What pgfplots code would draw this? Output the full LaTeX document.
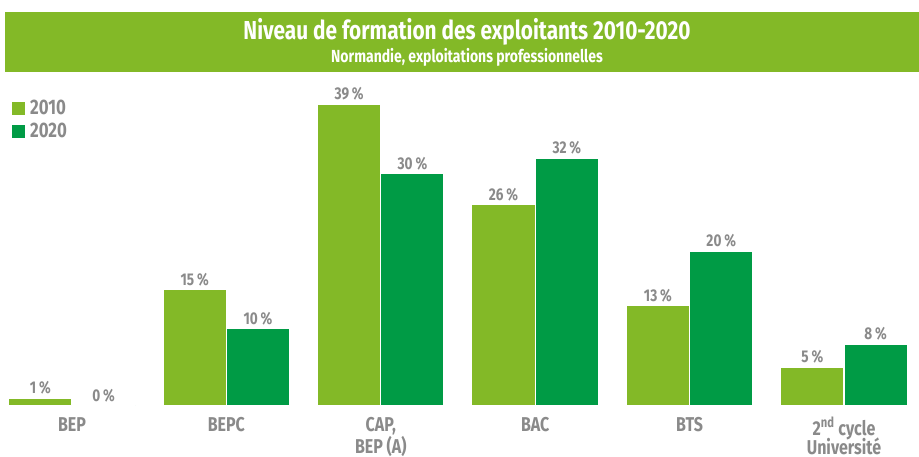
\documentclass[border=0pt]{standalone}
\usepackage{fontspec}
\setmainfont[FakeStretch=0.8]{Fira Sans}
\usepackage{pgfplots}
\pgfplotsset{compat=1.18}
\definecolor{lg}{HTML}{83B927}
\definecolor{dg}{HTML}{009B45}
\definecolor{tg}{HTML}{8A8A8A}
\begin{document}
\begin{tikzpicture}[x=1bp,y=1bp]
\path[use as bounding box] (0,0) rectangle (919,457);
\fill[lg] (5,385) rectangle (919,445);
\node[white,font=\bfseries\fontsize{26bp}{28bp}\selectfont] at (467,425) {Niveau de formation des exploitants 2010-2020};
\node[white,font=\bfseries\fontsize{17.5bp}{19bp}\selectfont] at (467,400) {Normandie, exploitations professionnelles};
\begin{axis}[
  at={(0,66)}, anchor=south west, scale only axis,
  width=919bp, height=324bp,
  xmin=-0.466, xmax=5.486, ymin=0, ymax=41.86,
  axis line style={draw=none}, tick style={draw=none},
  ytick=\empty,
  xtick={0,1,2,3,4,5},
  xticklabels={BEP,BEPC,{CAP,\\BEP (A)},BAC,BTS,{2\textsuperscript{nd} cycle\\[-3bp]Université}},
  xticklabel style={font=\bfseries\fontsize{20bp}{17bp}\selectfont, text=tg, align=center, anchor=north, yshift=-6bp, inner sep=1bp},
  /pgf/number format/assume math mode=true,
  ybar, bar width=0.41,
  nodes near coords={\pgfmathprintnumber{\pgfplotspointmeta}\,\%},
  nodes near coords style={font=\bfseries\fontsize{17bp}{18bp}\selectfont, text=tg, inner sep=1bp, anchor=south, yshift=2bp},
  legend style={at={(axis description cs:0.013,0.95)}, anchor=north west, draw=none, fill=none,
    font=\bfseries\fontsize{21bp}{22bp}\selectfont, text=tg, row sep=3bp, inner sep=0pt,
    cells={anchor=west}, /tikz/every even column/.append style={column sep=0pt}},
  legend image code/.code={\fill[#1,draw=none] (0bp,-7bp) rectangle (13bp,6bp);},
]
\addplot[fill=lg, draw=white, line width=1.2bp, bar shift=-0.205] coordinates {(0,1) (1,15) (2,39) (3,26) (4,13) (5,5)};
\addlegendentry{\hspace{3bp}2010}
\addplot[fill=dg, draw=white, line width=1.2bp, bar shift=0.205] coordinates {(0,0) (1,10) (2,30) (3,32) (4,20) (5,8)};
\addlegendentry{\hspace{3bp}2020}
\end{axis}
\end{tikzpicture}
\end{document}
